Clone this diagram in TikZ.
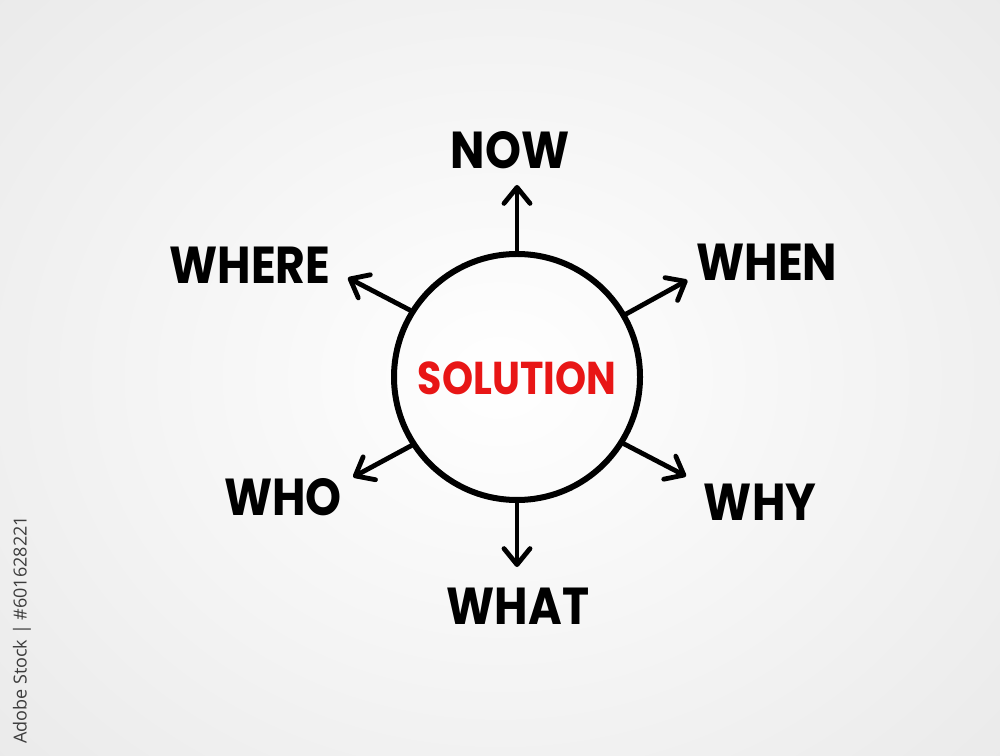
\documentclass[tikz,border=0pt]{standalone}
\usepackage{fontspec}
\setmainfont{Poppins}
\newfontfamily\wmfont{Open Sans}
\usetikzlibrary{arrows.meta,calc}
\definecolor{solred}{RGB}{232,22,22}
\definecolor{wmgray}{RGB}{60,60,60}
\newcommand{\nw}[1]{\scalebox{0.88}[1]{#1}}
\begin{document}
\begin{tikzpicture}[x=1pt,y=1pt,
  word/.style={font=\fontsize{52}{60}\selectfont\bfseries, text=black, inner sep=0pt, anchor=center},
  spoke/.style={line width=4.8pt, line cap=round, line join=round,
    -{Straight Barb[length=16pt,width=26pt,line width=4.8pt,round]}},
  hub/.style={circle, draw=black, line width=6pt, minimum size=246pt, inner sep=0pt}
]
\useasboundingbox (0,0) rectangle (1000,755);
\shade[inner color=white, outer color=black!9] (-250,-250) rectangle (1250,1005);
\node[hub] (sol) at (517,378) {};
\node[font=\fontsize{46}{52}\selectfont\bfseries, text=solred, inner sep=0pt] (soltext) at (517,377) {\scalebox{0.86}[1]{SOLUTION}};
% words
\node[word] (now) at (510,605) {\nw{NOW}};
\node[word] (where) at (250,490) {\nw{WHERE}};
\node[word] (when) at (767,493) {\nw{WHEN}};
\node[word] (who) at (283,258) {\nw{WHO}};
\node[word] (why) at (760,253) {\nw{WHY}};
\node[word] (what) at (518,149) {\nw{WHAT}};
% arrow tips
\coordinate (tnow) at ($(sol.center)+(90:192)$);
\coordinate (twhere) at ($(sol.center)+(149.6:196)$);
\coordinate (twhen) at ($(sol.center)+(29.6:196)$);
\coordinate (twho) at ($(sol.center)+(211.4:192)$);
\coordinate (twhy) at ($(sol.center)+(-30.4:196)$);
\coordinate (twhat) at ($(sol.center)+(-90:190)$);
\draw[spoke] (sol.90) -- (tnow);
\draw[spoke] (sol.148.4) -- (twhere);
\draw[spoke] (sol.30.6) -- (twhen);
\draw[spoke] (sol.213.7) -- (twho);
\draw[spoke] (sol.-32.7) -- (twhy);
\draw[spoke] (sol.-90) -- (twhat);
% stock id
\node[rotate=90, font=\wmfont\fontsize{18}{20}\selectfont, text=wmgray, inner sep=0pt] (wm) at (22,125) {Adobe Stock | \#601628221};
\end{tikzpicture}
\end{document}
